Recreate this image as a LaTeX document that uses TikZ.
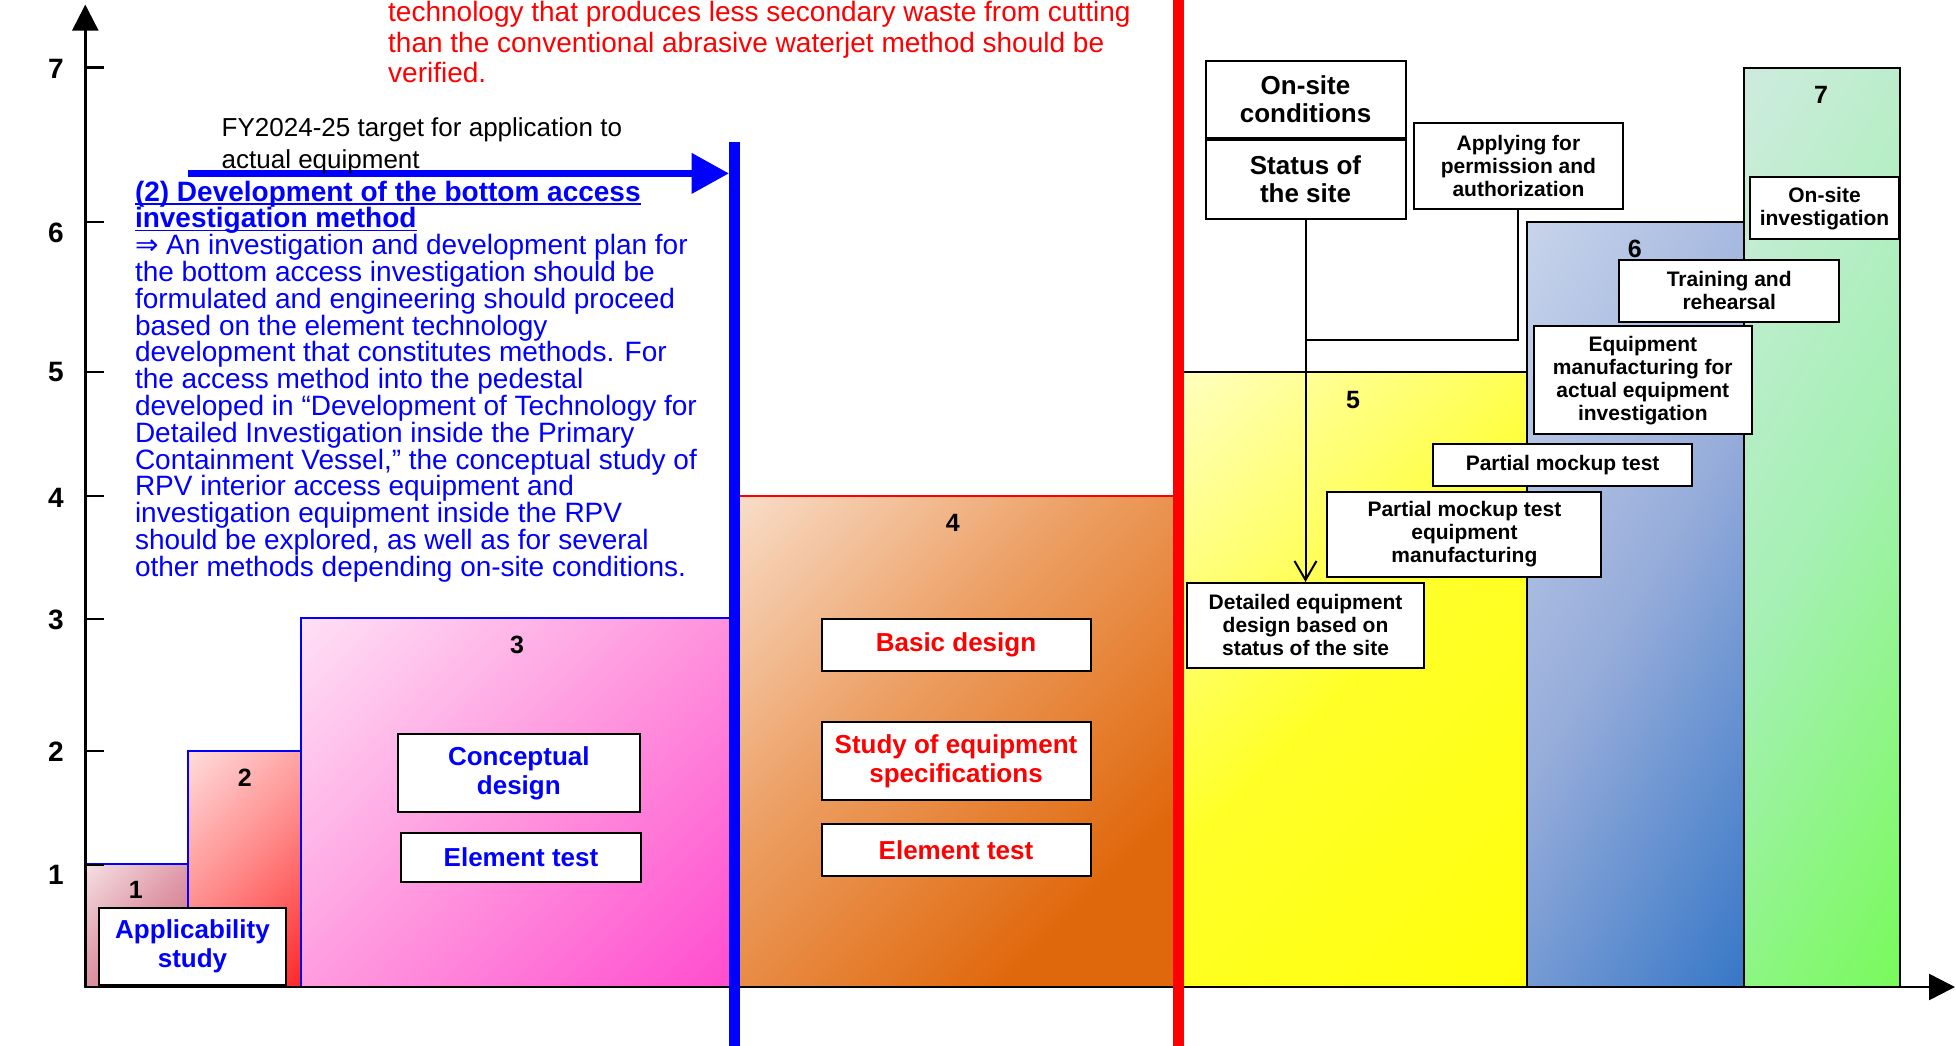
\documentclass[tikz,border=0pt]{standalone}
\usepackage{fontspec}
\setmainfont{Liberation Sans}
\newfontfamily\djv{DejaVu Sans}
\usetikzlibrary{arrows.meta}
\newsavebox\ulbox
\newcommand\myul[1]{\sbox\ulbox{#1}\rlap{\rule[-3.6pt]{\wd\ulbox}{1.8pt}}\usebox\ulbox}
\definecolor{pblue}{RGB}{0,0,255}
\definecolor{pred}{RGB}{255,0,0}
\definecolor{cA}{RGB}{190,75,105}
\definecolor{cAm}{RGB}{222,150,165}
\definecolor{cB}{RGB}{255,0,0}
\definecolor{cBm}{RGB}{255,135,135}
\definecolor{cC}{RGB}{255,45,200}
\definecolor{cCm}{RGB}{255,150,222}
\definecolor{cD}{RGB}{224,104,12}
\definecolor{cDm}{RGB}{236,158,98}
\definecolor{cE}{RGB}{255,255,0}
\definecolor{cEm}{RGB}{255,255,40}
\definecolor{cFs}{RGB}{222,230,242}
\definecolor{cFm}{RGB}{150,172,218}
\definecolor{cF}{RGB}{10,95,190}
\definecolor{cGs}{RGB}{225,233,242}
\definecolor{cGm}{RGB}{165,240,180}
\definecolor{cG}{RGB}{100,255,50}
\pgfdeclareverticalshading{shA}{100bp}{color(0bp)=(cA); color(50bp)=(cAm); color(100bp)=(white)}
\pgfdeclareverticalshading{shB}{100bp}{color(0bp)=(cB); color(50bp)=(cBm); color(100bp)=(white)}
\pgfdeclareverticalshading{shC}{100bp}{color(0bp)=(cC); color(50bp)=(cCm); color(100bp)=(white)}
\pgfdeclareverticalshading{shD}{100bp}{color(0bp)=(cD); color(28bp)=(cD); color(58bp)=(cDm); color(100bp)=(white)}
\pgfdeclareverticalshading{shE}{100bp}{color(0bp)=(cE); color(50bp)=(cEm); color(100bp)=(white)}
\pgfdeclareverticalshading{shF}{100bp}{color(0bp)=(cF); color(50bp)=(cFm); color(100bp)=(cFs)}
\pgfdeclareverticalshading{shG}{100bp}{color(0bp)=(cG); color(50bp)=(cGm); color(100bp)=(cGs)}
\begin{document}
\lineskiplimit=-100pt
\begin{tikzpicture}[x=1pt,y=-1pt,
  wbox/.style={draw=black, fill=white, line width=2pt, inner sep=0pt, align=center},
  bluebox/.style={wbox, text=pblue, font=\bfseries\fontsize{26}{29}\selectfont},
  redbox/.style={wbox, text=pred, font=\bfseries\fontsize{26}{29}\selectfont},
  bigbox/.style={wbox, font=\bfseries\fontsize{26}{28}\selectfont},
  smallbox/.style={wbox, font=\bfseries\fontsize{21}{23}\selectfont},
  axlab/.style={font=\bfseries\fontsize{28}{30}\selectfont, inner sep=0pt},
  reglab/.style={font=\bfseries\fontsize{25}{27}\selectfont, inner sep=0pt},
  region/.style={line width=2pt},
  tickline/.style={line width=2.5pt},
  axisline/.style={line width=2.5pt, -{Triangle[length=26pt,width=26pt]}},
  conn/.style={line width=2pt},
]
\useasboundingbox (0,0) rectangle (1956,1046);
\fill[white] (0,0) rectangle (1956,1046);

% regions
\shadedraw[region, draw=pblue, shading=shA, shading angle=45] (85,864) rectangle (187.6,987);
\shadedraw[region, draw=pblue, shading=shB, shading angle=45] (187.6,751) rectangle (300.5,987);
\shadedraw[region, draw=pblue, shading=shC, shading angle=45] (300.5,618) rectangle (734,987);
\shadedraw[region, draw=pred, shading=shD, shading angle=45] (734,495.6) rectangle (1178,987);
\shadedraw[region, draw=black, shading=shE, shading angle=45] (1178,372) rectangle (1527,987);
\shadedraw[region, draw=black, shading=shF, shading angle=60] (1527,222) rectangle (1744,987);
\shadedraw[region, draw=black, shading=shG, shading angle=60] (1744,67.7) rectangle (1899.6,987);

% region labels
\node[reglab] (n1) at (135.7,890) {1};
\node[reglab] (n2) at (244.8,777.7) {2};
\node[reglab] (n3) at (517,645) {3};
\node[reglab] (n4) at (952.7,522.4) {4};
\node[reglab] (n5) at (1353,400) {5};
\node[reglab] (n6) at (1634.8,248.8) {6};
\node[reglab] (n7) at (1821,95) {7};

% axes
\coordinate (O) at (85.3,987);
\coordinate (Ytip) at (85.3,4.6);
\coordinate (Xtip) at (1955,987);
\draw[axisline] (O) -- (Ytip);
\draw[axisline] (O) -- (Xtip);
\foreach \yy in {67.7,222,372,496,619,751,865} \draw[tickline] (85.3,\yy) -- (104,\yy);
\node[axlab] (a7) at (56,69) {7};
\node[axlab] (a6) at (56,233) {6};
\node[axlab] (a5) at (56,372) {5};
\node[axlab] (a4) at (56,498) {4};
\node[axlab] (a3) at (56,620) {3};
\node[axlab] (a2) at (56,752) {2};
\node[axlab] (a1) at (56,875) {1};

% vertical lines
\draw[line width=11pt, pblue] (734,142.4) -- (734,1046);
\draw[line width=11.5pt, pred] (1178.5,0) -- (1178.5,1046);

% blue arrow
\coordinate (arS) at (188,173.4);
\coordinate (arE) at (729,173.4);
\draw[line width=7.6pt, pblue, -{Triangle[length=37.5pt,width=39pt]}] (arS) -- (arE);

% texts (base anchor = baseline of last line)
\node[anchor=base west, inner sep=0pt, text=pred, font=\fontsize{28}{30.6}\selectfont, align=left] (redtxt) at (388,82.7)
 {technology that produces less secondary waste from cutting\\than the conventional abrasive waterjet method should be\\verified.};
\node[anchor=base west, inner sep=0pt, font=\fontsize{26}{31.6}\selectfont, align=left] (fy) at (221.5,168.6)
 {FY2024-25 target for application to\\actual equipment};
\node[anchor=base west, inner sep=0pt, text=pblue, font=\fontsize{28}{26.8}\selectfont, align=left] (para) at (134.8,576.2)
 {{\bfseries\myul{(2) Development of the bottom access}}\\
  {\bfseries\myul{investigation method}}\\
  {\djv ⇒} An investigation and development plan for\\
  the bottom access investigation should be\\
  formulated and engineering should proceed\\
  based on the element technology\\
  development that constitutes methods. For\\
  the access method into the pedestal\\
  developed in “Development of Technology for\\
  Detailed Investigation inside the Primary\\
  Containment Vessel,” the conceptual study of\\
  RPV interior access equipment and\\
  investigation equipment inside the RPV\\
  should be explored, as well as for several\\
  other methods depending on-site conditions.};

% boxes left
\node[bluebox, minimum width=187pt, minimum height=77pt] (app) at (192.5,946.5) {Applicability\\study};
\node[bluebox, minimum width=242.5pt, minimum height=78pt] (concept) at (518.8,773) {Conceptual\\design};
\node[bluebox, minimum width=240pt, minimum height=49pt] (elemA) at (521,857.5) {Element test};
\node[redbox, minimum width=269pt, minimum height=52pt] (basic) at (956,645) {Basic design};
\node[redbox, minimum width=269pt, minimum height=78pt] (study) at (956,761) {Study of equipment\\specifications};
\node[redbox, minimum width=269pt, minimum height=52pt] (elemB) at (956,850) {Element test};

% boxes right
\node[bigbox, minimum width=200pt, minimum height=77pt] (onsite) at (1305.5,99.2) {On-site\\conditions};
\node[bigbox, minimum width=200pt, minimum height=78pt] (status) at (1305.5,179.5) {Status of\\the site};
\node[smallbox, minimum width=209pt, minimum height=86pt] (apply) at (1518.4,166.1) {Applying for\\permission and\\authorization};
\node[smallbox, minimum width=149pt, minimum height=62pt] (oninv) at (1824.5,208.4) {On-site\\investigation};
\node[smallbox, minimum width=219.6pt, minimum height=62pt] (train) at (1729.2,290.5) {Training and\\rehearsal};
\node[smallbox, minimum width=218.5pt, minimum height=108pt] (equip) at (1642.8,380.2) {Equipment\\manufacturing for\\actual equipment\\investigation};
\node[smallbox, minimum width=259.6pt, minimum height=42.4pt] (pmt) at (1562.6,465.2) {Partial mockup test};
\node[smallbox, minimum width=274pt, minimum height=85pt] (pmtem) at (1464.4,534.5) {Partial mockup test\\equipment\\manufacturing};
\node[smallbox, minimum width=237.5pt, minimum height=84.7pt] (detail) at (1305.5,625.3) {Detailed equipment\\design based on\\status of the site};

% connectors
\coordinate (joinpt) at (1305.5,339.5);
\draw[conn, -{Straight Barb[length=19pt,width=22pt]}] (status.south) -- (detail.north);
\draw[conn] (apply.south) |- (joinpt);
\end{tikzpicture}
\end{document}
